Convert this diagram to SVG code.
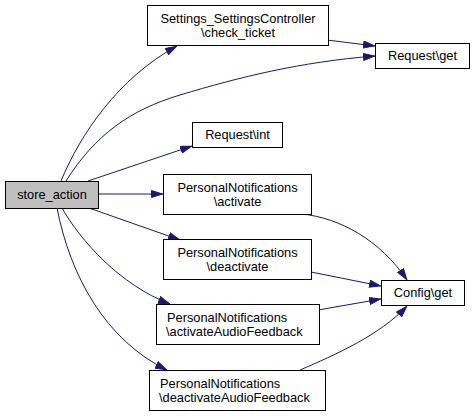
<svg xmlns="http://www.w3.org/2000/svg" width="475" height="416" viewBox="0 0 475 416">
<defs>
<marker id="ah" viewBox="0 0 12 8" refX="12" refY="4" markerWidth="12" markerHeight="8" markerUnits="userSpaceOnUse" orient="auto">
<path d="M0.5,0.5 L11.5,4 L0.5,7.5 z" fill="#191970" stroke="#191970"/>
</marker>
<style>
rect{fill:#fff;stroke:#000;stroke-width:1}
#n_store rect{fill:#bfbfbf}
text{font-family:"Liberation Sans",Arial,sans-serif;font-size:12.8px;fill:#000;text-anchor:middle}
text.l{text-anchor:start}
#edges path{fill:none;stroke:#191970;stroke-width:1;marker-end:url(#ah)}
</style>
</defs>
<rect x="0" y="0" width="475" height="416" style="fill:#fff;stroke:none"/>
<g id="edges">
<path d="M61,181 C80,135 118,78 177,46"/>
<path d="M66,181 C95,135 130,110 180,95 C240,77 300,62 375,56"/>
<path d="M88,181 L192,146"/>
<path d="M98,194 L163,194"/>
<path d="M89,208 L180,240"/>
<path d="M62,208 C80,240 120,285 170,304"/>
<path d="M57,208 C70,275 105,340 167,370"/>
<path d="M327,40 L375,46"/>
<path d="M302,214 C340,218 380,240 407,280"/>
<path d="M311,272 L381,286"/>
<path d="M318,310 L381,299"/>
<path d="M300,370 C335,355 380,335 407,306"/>
</g>
<g id="n_store"><rect x="5.5" y="181.5" width="93" height="27"/><text x="52" y="199">store_action</text></g>
<g id="n_settings"><rect x="147.5" y="5.5" width="181" height="40"/><text x="238" y="23">Settings_SettingsController</text><text x="238" y="36.5">\check_ticket</text></g>
<g id="n_reqget"><rect x="375.5" y="43.5" width="94" height="25"/><text x="422.5" y="60">Request\get</text></g>
<g id="n_reqint"><rect x="192.5" y="122.5" width="90" height="25"/><text x="237.5" y="139">Request\int</text></g>
<g id="n_act"><rect x="163.5" y="174.5" width="148" height="40"/><text x="237.5" y="192">PersonalNotifications</text><text x="237.5" y="205.5">\activate</text></g>
<g id="n_deact"><rect x="163.5" y="239.5" width="148" height="40"/><text x="237.5" y="257">PersonalNotifications</text><text x="237.5" y="270.5">\deactivate</text></g>
<g id="n_config"><rect x="381.5" y="280.5" width="83" height="25"/><text x="423" y="297">Config\get</text></g>
<g id="n_actaf"><rect x="156.5" y="304.5" width="163" height="40"/><text class="l" x="167" y="322">PersonalNotifications</text><text class="l" x="166" y="335.5">\activateAudioFeedback</text></g>
<g id="n_deactaf"><rect x="149.5" y="370.5" width="176" height="40"/><text class="l" x="160" y="388">PersonalNotifications</text><text class="l" x="159" y="401.5">\deactivateAudioFeedback</text></g>
</svg>
